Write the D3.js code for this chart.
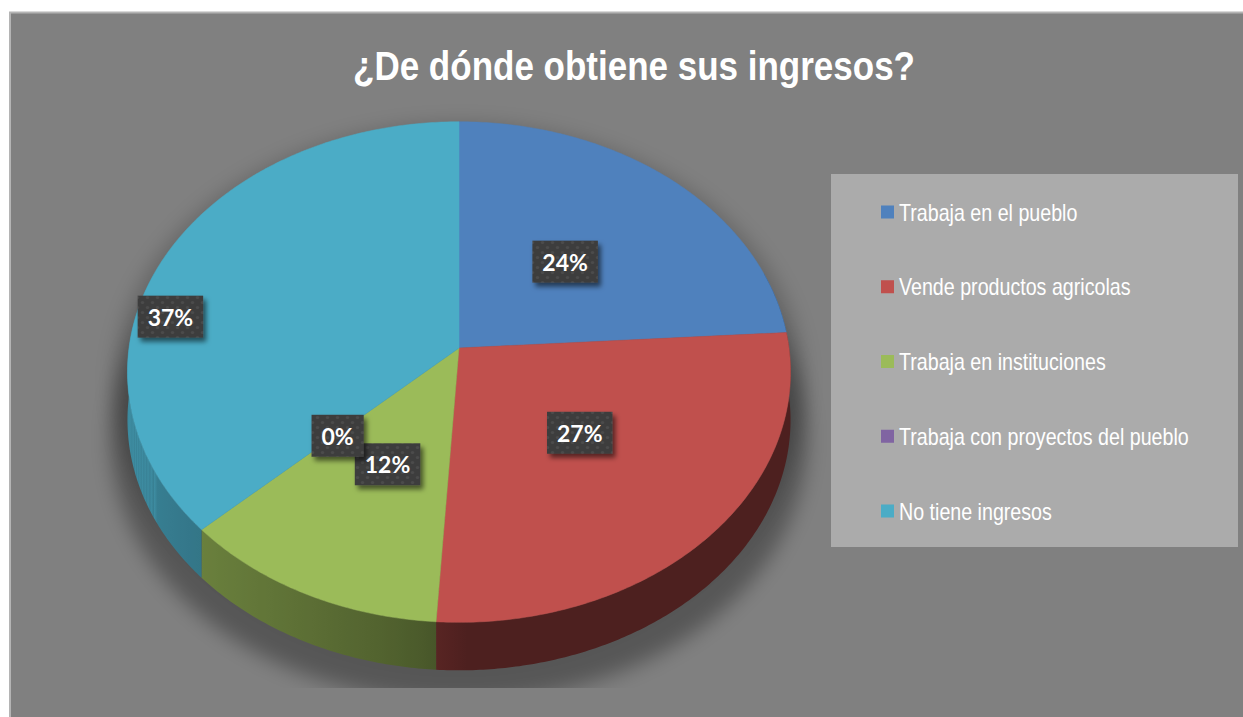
<!DOCTYPE html>
<html>
<head>
<meta charset="utf-8">
<script src="https://cdn.jsdelivr.net/npm/d3@7"></script>
<style>
  html, body { margin: 0; padding: 0; background: #ffffff; }
  svg { display: block; }
</style>
</head>
<body>
<svg id="chart" width="1243" height="717"></svg>
<script>
// data
const categories = [
  "Trabaja en el pueblo",
  "Vende productos agricolas",
  "Trabaja en instituciones",
  "Trabaja con proyectos del pueblo",
  "No tiene ingresos"
];
const values = [24, 27, 12, 0, 37];
const colors = ["#4F81BD", "#C0504D", "#9BBB59", "#8064A2", "#4BACC6"];
const title = "¿De dónde obtiene sus ingresos?";

// layout
const W = 1243, H = 717;
const CX = 459, CY = 348;      // pie centre on screen
const RX = 330, RY = 248;      // radii of the tilted disc
const K = 0.096;               // perspective strength
const DEPTH = 48;              // thickness of the pie
const LABEL_R = 0.5;
const labelNudge = [[-3, 1], [0, -6], [2, -1], [3, 0], [-140, 17]];
const FONT = "'Liberation Sans Narrow', 'Arial Narrow', 'Liberation Sans', Arial, sans-serif";
const TITLE_WIDTH = 562, LEGEND_WIDTH = 290;

const svg = d3.select("#chart");
const defs = svg.append("defs");

// project angle (clockwise from 12 o'clock) + radius fraction onto screen
function proj(theta, f, dy) {
  const u = Math.sin(theta) * f;
  const v = Math.cos(theta) * f;
  const w = 1 + K * v;
  return [CX + RX * u / w, CY - RY * v / w + (dy || 0)];
}

function arcPoints(a0, a1, f, dy) {
  const n = Math.max(2, Math.ceil((a1 - a0) / 0.01));
  const pts = [];
  for (let i = 0; i <= n; i++) {
    pts.push(proj(a0 + (a1 - a0) * i / n, f, dy));
  }
  return pts;
}

const line = d3.line();

// squeeze a text horizontally so it reaches a given width (narrow face stand-in)
function fitText(sel, x, y, width) {
  const tw = sel.node().getComputedTextLength();
  const s = Math.min(1, width / tw);
  sel.attr("x", 0).attr("y", 0)
    .attr("transform", "translate(" + x + "," + y + ") scale(" + s + ",1)");
  return s;
}

// filters
const blur = defs.append("filter").attr("id", "pieShadow")
  .attr("x", "-20%").attr("y", "-20%").attr("width", "140%").attr("height", "140%");
blur.append("feGaussianBlur").attr("stdDeviation", 10);

const drop = defs.append("filter").attr("id", "boxShadow")
  .attr("x", "-30%").attr("y", "-30%").attr("width", "160%").attr("height", "170%");
drop.append("feDropShadow").attr("dx", 3).attr("dy", 4).attr("stdDeviation", 2.5)
  .attr("flood-color", "#000").attr("flood-opacity", 0.55);

const pat = defs.append("pattern").attr("id", "dots")
  .attr("patternUnits", "userSpaceOnUse").attr("width", 10).attr("height", 10);
pat.append("rect").attr("width", 10).attr("height", 10).attr("fill", "#3E3E3E");
pat.append("circle").attr("cx", 2.5).attr("cy", 2.5).attr("r", 1.6).attr("fill", "#4B4B4B");
pat.append("circle").attr("cx", 7.5).attr("cy", 7.5).attr("r", 1.6).attr("fill", "#4B4B4B");

defs.append("clipPath").attr("id", "plotClip")
  .append("rect").attr("x", 0).attr("y", 0).attr("width", W).attr("height", 688);

// chart area
svg.append("rect")
  .attr("x", 10).attr("y", 12.5).attr("width", W + 20).attr("height", H + 20)
  .attr("fill", "#808080").attr("stroke", "#B4B4B4").attr("stroke-width", 2);

// title
const titleText = svg.append("text")
  .attr("text-anchor", "middle")
  .attr("font-family", FONT)
  .attr("font-weight", "bold")
  .attr("font-size", 40)
  .attr("fill", "#ffffff")
  .text(title);
fitText(titleText, 634, 80, TITLE_WIDTH);

// pie
const pie = d3.pie().sort(null).value(d => d)(values);
const total = d3.sum(values);
const pct = d3.format(".0%");

// soft shadow under the pie
const shadowG = svg.append("g").attr("clip-path", "url(#plotClip)");
shadowG.append("path")
  .attr("d", line(arcPoints(0, 2 * Math.PI, 1.05, DEPTH + 16)) + "Z")
  .attr("fill", "#000").attr("opacity", 0.32)
  .attr("filter", "url(#pieShadow)");
shadowG.append("path")
  .attr("d", line(arcPoints(0, 2 * Math.PI, 1.04, 10)) + "Z")
  .attr("fill", "#000").attr("opacity", 0.2)
  .attr("filter", "url(#pieShadow)");

// side shading: darker towards the front, lighter on the left
function shade(theta) {
  const deg = theta * 180 / Math.PI;
  const t = Math.max(0, Math.min(1, (deg - 180) / 90));
  return 0.4 + 0.42 * Math.pow(t, 0.6);
}

const gx0 = CX - RX - 10, gx1 = CX + RX + 10;
const sides = svg.append("g");
pie.forEach((s, i) => {
  if (s.endAngle - s.startAngle <= 0) return;
  const a0 = Math.max(s.startAngle, Math.PI * 0.4);
  const a1 = Math.min(s.endAngle, Math.PI * 1.6);
  if (a1 <= a0) return;
  const base = d3.rgb(colors[i]);
  const grad = defs.append("linearGradient").attr("id", "side" + i)
    .attr("gradientUnits", "userSpaceOnUse")
    .attr("x1", gx0).attr("x2", gx1).attr("y1", 0).attr("y2", 0);
  const stops = [];
  for (let a = a0; a <= a1 + 1e-9; a += (a1 - a0) / 40) {
    const x = proj(a, 1, 0)[0];
    const k = shade(a);
    stops.push({ o: (x - gx0) / (gx1 - gx0), c: d3.rgb(base.r * k, base.g * k, base.b * k).toString() });
  }
  stops.sort((p, q) => p.o - q.o);
  stops.forEach(st => grad.append("stop").attr("offset", st.o).attr("stop-color", st.c));
  const top = arcPoints(a0, a1, 1, 0);
  const bot = arcPoints(a0, a1, 1, DEPTH).reverse();
  sides.append("path")
    .attr("d", line(top.concat(bot)) + "Z")
    .attr("fill", "url(#side" + i + ")");
});

const tops = svg.append("g");
tops.selectAll("path")
  .data(pie.filter(s => s.endAngle > s.startAngle))
  .join("path")
  .attr("d", s => line([[CX, CY]].concat(arcPoints(s.startAngle, s.endAngle, 1, 0))) + "Z")
  .attr("fill", s => colors[s.index])
  .attr("stroke", s => colors[s.index])
  .attr("stroke-width", 0.5);

// data labels
const labels = svg.append("g");
pie.forEach((s, i) => {
  const mid = (s.startAngle + s.endAngle) / 2;
  const p = proj(mid, LABEL_R, 0);
  const x = p[0] + labelNudge[i][0];
  const y = p[1] + labelNudge[i][1];
  const g = labels.append("g");
  const box = g.append("rect");
  const t = g.append("text")
    .attr("x", x).attr("y", y)
    .attr("text-anchor", "middle")
    .attr("dominant-baseline", "central")
    .attr("font-family", "Lato, 'Open Sans', sans-serif")
    .attr("font-weight", "bold")
    .attr("font-size", 23)
    .attr("fill", "#ffffff")
    .text(pct(values[i] / total));
  const tw = t.node().getComputedTextLength();
  box.attr("x", x - tw / 2 - 10).attr("y", y - 21)
    .attr("width", tw + 20).attr("height", 42)
    .attr("fill", "url(#dots)")
    .attr("filter", "url(#boxShadow)");
});

// legend
const legend = svg.append("g");
legend.append("rect")
  .attr("x", 831).attr("y", 174).attr("width", 407).attr("height", 373)
  .attr("fill", "#ABABAB");
const ly = d3.scalePoint().domain(categories).range([212, 511]);
const legendTexts = categories.map((c, i) => {
  legend.append("rect")
    .attr("x", 881).attr("y", ly(c) - 6.5).attr("width", 13).attr("height", 13)
    .attr("fill", colors[i]);
  return legend.append("text")
    .attr("dominant-baseline", "central")
    .attr("font-family", FONT)
    .attr("font-size", 23)
    .attr("fill", "#ffffff")
    .text(c);
});
const longest = d3.max(legendTexts, t => t.node().getComputedTextLength());
const ls = Math.min(1, LEGEND_WIDTH / longest);
legendTexts.forEach((t, i) => {
  t.attr("transform", "translate(899," + (ly(categories[i]) + 1) + ") scale(" + ls + ",1)");
});
</script>
</body>
</html>
